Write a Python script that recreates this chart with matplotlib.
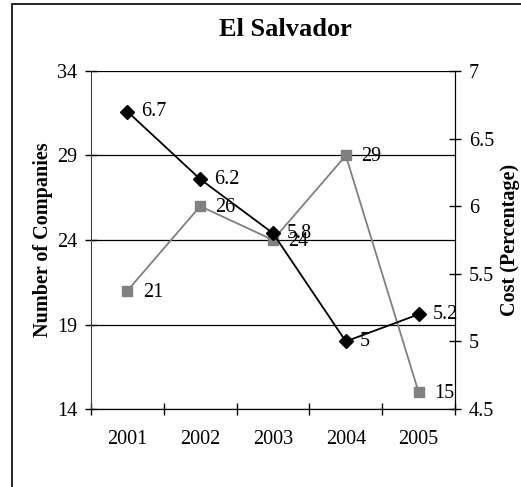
import matplotlib.pyplot as plt
from matplotlib.patches import Rectangle

years = ['2001', '2002', '2003', '2004', '2005']
companies = [21, 26, 24, 29, 15]
cost = [6.7, 6.2, 5.8, 5.0, 5.2]
company_labels = ['21', '26', '24', '29', '15']
cost_labels = ['6.7', '6.2', '5.8', '5', '5.2']

plt.rcParams['font.family'] = ['Liberation Serif', 'DejaVu Serif']
fs = 14.5

fig = plt.figure(figsize=(5.21, 4.87), dpi=100)
# rahmen um das ganze diagramm
fig.patches.append(Rectangle((12 / 521, -0.1), 1.2, 1.1 - 4 / 487, transform=fig.transFigure,
                             fill=False, edgecolor='black', linewidth=1.2))

ax = fig.add_axes([91 / 521, 1 - 409 / 487, (455 - 91) / 521, (409 - 71) / 487])
x = list(range(len(years)))

ax.plot(x, companies, color='#808080', marker='s', markersize=7, linewidth=1.3, zorder=3)
for xi, v, t in zip(x, companies, company_labels):
    ax.annotate(t, (xi, v), xytext=(11, -1), textcoords='offset points',
                va='center', ha='left', fontsize=fs)

ax.set_ylim(14, 34)
ax.set_yticks([14, 19, 24, 29, 34])
ax.set_xlim(-0.5, 4.5)
ax.set_xticks([i - 0.5 for i in range(6)])
ax.set_xticklabels([])
ax.set_xticks(x, minor=True)
ax.set_xticklabels(years, minor=True)
ax.tick_params(axis='x', which='major', direction='inout', length=8, width=1)
ax.tick_params(axis='x', which='minor', length=0, labelsize=fs, pad=15)
ax.tick_params(axis='y', direction='inout', length=8, width=1, labelsize=fs, pad=6)
ax.yaxis.grid(True, color='black', linewidth=0.9)
ax.set_axisbelow(True)
ax.spines['top'].set_visible(False)
ax.spines['left'].set_color('#404040')
ax.set_ylabel('Number of Companies', fontsize=fs, fontweight='bold', labelpad=3)

ax2 = ax.twinx()
ax2.plot(x, cost, color='black', marker='D', markersize=7, linewidth=1.3, zorder=4)
for xi, v, t in zip(x, cost, cost_labels):
    ax2.annotate(t, (xi, v), xytext=(10, 0), textcoords='offset points',
                 va='center', ha='left', fontsize=fs)
ax2.set_ylim(4.5, 7)
ax2.set_yticks([4.5, 5, 5.5, 6, 6.5, 7])
ax2.set_yticklabels(['4.5', '5', '5.5', '6', '6.5', '7'])
ax2.tick_params(axis='y', direction='inout', length=8, width=1, labelsize=fs, pad=6)
ax2.spines['top'].set_visible(False)
ax2.spines['left'].set_visible(False)
ax2.set_ylabel('Cost (Percentage)', fontsize=fs, fontweight='bold', labelpad=4)

fig.text(285 / 521, 1 - 30 / 487, 'El Salvador', ha='center', va='center',
         fontsize=19, fontweight='bold')

fig.savefig('out.png', dpi=100)
